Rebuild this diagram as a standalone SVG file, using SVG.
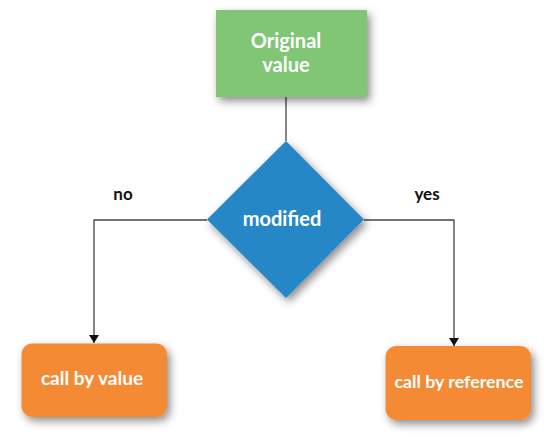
<svg xmlns="http://www.w3.org/2000/svg" width="544" height="439" viewBox="0 0 544 439">
<defs>
<filter id="sh" x="-30%" y="-30%" width="160%" height="160%">
<feDropShadow dx="3" dy="4" stdDeviation="4" flood-color="#000" flood-opacity="0.45"/>
</filter>
<marker id="ah" markerWidth="8" markerHeight="10" refX="8" refY="5" orient="auto" markerUnits="userSpaceOnUse">
<path d="M0,0 L8,5 L0,10 Z" fill="#111"/>
</marker>
<style>
.t{font-family:"Lato","Open Sans","Liberation Sans",sans-serif;font-weight:bold;fill:#fff;text-anchor:middle}
.l{font-family:"Lato","Open Sans","Liberation Sans",sans-serif;font-weight:bold;fill:#111;text-anchor:middle;font-size:17px}
.c{fill:none;stroke:#444;stroke-width:1.3}
</style>
</defs>
<rect width="544" height="439" fill="#fff"/>
<g id="connectors">
<line class="c" x1="286" y1="97" x2="286" y2="141"/>
<polyline class="c" points="207,220 94,220 94,343" marker-end="url(#ah)"/>
<polyline class="c" points="364,220 454,220 454,346" marker-end="url(#ah)"/>
</g>
<g id="original">
<rect x="216" y="10" width="151" height="87" fill="#80c674" filter="url(#sh)"/>
<text class="t" x="286" y="48" font-size="20">Original</text>
<text class="t" x="286" y="72" font-size="20">value</text>
</g>
<g id="modified">
<polygon points="286,141 364,219.5 286,298 207,219.5" fill="#2787c7" filter="url(#sh)"/>
<text class="t" x="282" y="226" font-size="20">modified</text>
</g>
<g id="callvalue">
<rect x="21.5" y="343.5" width="145.5" height="73.5" rx="11" fill="#f58a36" filter="url(#sh)"/>
<text class="t" x="92" y="385" font-size="19">call by value</text>
</g>
<g id="callref">
<rect x="385.5" y="346" width="145.5" height="74" rx="11" fill="#f58a36" filter="url(#sh)"/>
<text class="t" x="459" y="388" font-size="17.8">call by reference</text>
</g>
<text class="l" x="123" y="200">no</text>
<text class="l" x="427" y="200">yes</text>
</svg>
